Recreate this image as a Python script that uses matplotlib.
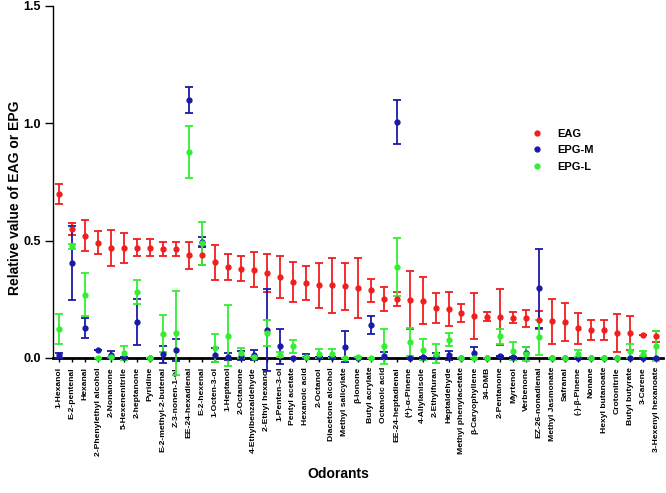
import matplotlib
matplotlib.use('Agg')

import matplotlib.pyplot as plt
from matplotlib.lines import Line2D
import numpy as np

plt.rcParams['font.family'] = ['Liberation Sans', 'DejaVu Sans']
plt.rcParams['font.weight'] = 'bold'

# Odorantes (eje x)
odorantes = [
    '1-Hexanol', 'E-2-pentenal', 'Hexanal', '2-Phenylethyl alcohol', '2-Nonanone',
    '5-Hexenenitrile', '2-heptanone', 'Pyridine', 'E-2-methyl-2-butenal', 'Z-3-nonen-1-ol',
    'EE-24-hexadienal', 'E-2-hexenal', '1-Octen-3-ol', '1-Heptanol', '2-Octanone',
    '4-Ethylbenzaldehyde', '2-Ethyl hexanol', '1-Penten-3-ol', 'Pentyl acetate', 'Hexanoic acid',
    '2-Octanol', 'Diacetone alcohol', 'Methyl salicylate', 'β-Ionone', 'Butyl acrylate',
    'Octanoic acid', 'EE-24-heptadienal', '(+)-α-Pinene', '4-Allylanisole', '2-Ethylfuran',
    'Heptaldehyde', 'Methyl phenylacetate', 'β-Caryophyllene', '34-DMB', '2-Pentanone',
    'Myrtenol', 'Verbenone', 'EZ-26-nonadienal', 'Methyl Jasmonate', 'Safranal',
    '(-)-β-Pinene', 'Nonane', 'Hexyl butanoate', 'Crotonitrile', 'Butyl butyrate',
    '3-Carene', '3-Hexenyl hexanoate',
]

# EAG
eag = [0.70, 0.55, 0.52, 0.49, 0.47, 0.47, 0.47, 0.47, 0.465, 0.465,
       0.437, 0.437, 0.407, 0.387, 0.38, 0.376, 0.362, 0.345, 0.322, 0.319,
       0.309, 0.309, 0.305, 0.298, 0.288, 0.252, 0.251, 0.248, 0.244, 0.213,
       0.208, 0.19, 0.18, 0.176, 0.173, 0.171, 0.169, 0.163, 0.156, 0.152,
       0.126, 0.119, 0.119, 0.106, 0.105, 0.096, 0.092]
eag_err = [0.042, 0.026, 0.066, 0.049, 0.077, 0.064, 0.035, 0.037, 0.031, 0.031,
           0.057, 0.04, 0.073, 0.057, 0.053, 0.075, 0.082, 0.089, 0.085, 0.071,
           0.096, 0.117, 0.099, 0.128, 0.05, 0.05, 0.028, 0.123, 0.101, 0.065,
           0.074, 0.038, 0.098, 0.02, 0.119, 0.023, 0.037, 0.038, 0.096, 0.08,
           0.066, 0.043, 0.043, 0.08, 0.073, 0.0, 0.023]

# EPG-M
epg_m = [0.011, 0.404, 0.128, 0.035, 0.014, 0.005, 0.153, 0.0, 0.015, 0.035,
         1.099, 0.494, 0.014, 0.005, 0.01, 0.012, 0.12, 0.05, 0.0, 0.006,
         0.005, 0.005, 0.047, 0.0, 0.139, 0.01, 1.004, 0.0, 0.003, 0.01,
         0.011, 0.0, 0.021, 0.0, 0.007, 0.003, 0.02, 0.296, 0.0, 0.0,
         0.0, 0.0, 0.0, 0.0, 0.0, 0.0, 0.0]
epg_m_err = [0.01, 0.158, 0.044, 0.0, 0.014, 0.0, 0.1, 0.0, 0.035, 0.047,
             0.055, 0.021, 0.03, 0.015, 0.02, 0.022, 0.174, 0.074, 0.0, 0.01,
             0.0, 0.0, 0.066, 0.0, 0.038, 0.015, 0.094, 0.0, 0.0, 0.01,
             0.02, 0.0, 0.024, 0.0, 0.0, 0.0, 0.025, 0.17, 0.0, 0.0,
             0.0, 0.0, 0.0, 0.0, 0.0, 0.0, 0.0]

# EPG-L
epg_l = [0.123, 0.475, 0.269, 0.0, 0.002, 0.021, 0.281, 0.0, 0.103, 0.106,
         0.877, 0.489, 0.042, 0.095, 0.021, 0.005, 0.106, 0.014, 0.049, 0.003,
         0.018, 0.018, 0.0, 0.003, 0.0, 0.049, 0.387, 0.068, 0.035, 0.018,
         0.078, 0.0, 0.0, 0.0, 0.092, 0.028, 0.018, 0.088, 0.0, 0.0,
         0.018, 0.0, 0.0, 0.0, 0.028, 0.018, 0.049]
epg_l_err = [0.064, 0.01, 0.091, 0.0, 0.0, 0.028, 0.053, 0.0, 0.078, 0.18,
             0.11, 0.092, 0.06, 0.13, 0.02, 0.0, 0.057, 0.01, 0.028, 0.0,
             0.02, 0.02, 0.0, 0.0, 0.0, 0.075, 0.123, 0.06, 0.045, 0.04,
             0.028, 0.0, 0.0, 0.0, 0.033, 0.038, 0.03, 0.074, 0.0, 0.0,
             0.015, 0.0, 0.0, 0.0, 0.03, 0.01, 0.064]

x = np.arange(len(odorantes))

fig = plt.figure(figsize=(6.66, 4.93), dpi=100)
ax = fig.add_axes([0.079, 0.274, 0.916, 0.714])

series = [
    (eag, eag_err, '#f01e1e', 'EAG'),
    (epg_m, epg_m_err, '#1a1aa8', 'EPG-M'),
    (epg_l, epg_l_err, '#33ee33', 'EPG-L'),
]
handles = []
for valores, errores, color, nombre in series:
    ax.errorbar(x, valores, yerr=errores, fmt='o', color=color, ms=3.5,
                elinewidth=1.3, capsize=3, capthick=1.3,
                clip_on=False, zorder=3)
    handles.append(Line2D([], [], ls='none', marker='o', ms=3.5, color=color, label=nombre))

ax.set_xlim(-0.5, len(odorantes) - 0.5)
ax.set_ylim(0, 1.5)
ax.set_yticks([0, 0.5, 1.0, 1.5])
ax.set_yticklabels(['0.0', '0.5', '1.0', '1.5'], fontsize=9, fontweight='bold')
ax.set_xticks(x)
ax.set_xticklabels(odorantes, rotation=90, fontsize=6.1, fontweight='bold')
ax.tick_params(axis='y', length=6, width=1, pad=2.5)
ax.tick_params(axis='x', length=3, width=1)

ax.spines['top'].set_visible(False)
ax.spines['right'].set_visible(False)
ax.spines['left'].set_linewidth(1)
ax.spines['bottom'].set_linewidth(2)

ax.set_ylabel('Relative value of EAG or EPG', fontsize=10, fontweight='bold')
ax.yaxis.set_label_coords(-0.05, 0.455)
ax.set_xlabel('Odorants', fontsize=10, fontweight='bold')
ax.xaxis.set_label_coords(0.468, -0.31)

ax.legend(handles=handles, loc='upper left', bbox_to_anchor=(0.76, 0.68), frameon=False,
          fontsize=8, handletextpad=0.8, labelspacing=0.6)

fig.savefig('out.png', dpi=100)
